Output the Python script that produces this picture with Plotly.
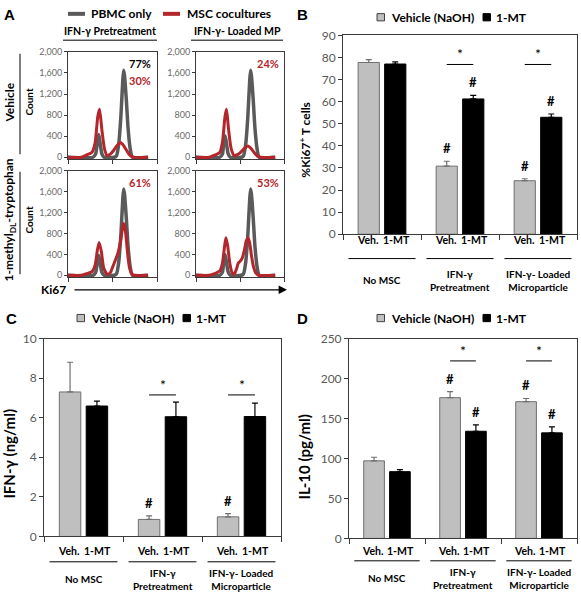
import plotly.graph_objects as go

W, H = 581, 600
FONT = "Lato, 'Open Sans', Arial, sans-serif"
LETTER_FONT = "'Liberation Sans', Arial, sans-serif"

# ---------------- data ----------------
groups = ["No MSC", "IFN-γ Pretreatment", "IFN-γ- Loaded Microparticle"]
group_labels = ["No MSC", "IFN-γ<br>Pretreatment", "IFN-γ- Loaded<br>Microparticle"]
series_names = ["Vehicle (NaOH)", "1-MT"]
bar_tick_labels = ["Veh.", "1-MT"]

# Panel B: %Ki67+ T cells
ki67_veh = [77.7, 30.8, 24.2]
ki67_veh_err = [1.3, 2.2, 0.9]
ki67_mt = [77.0, 61.2, 52.9]
ki67_mt_err = [1.0, 1.6, 1.5]
ki67_hash_veh = [False, True, True]
ki67_hash_mt = [False, True, True]

# Panel C: IFN-gamma (ng/ml)
ifng_veh = [7.30, 0.86, 0.99]
ifng_veh_err = [1.50, 0.18, 0.16]
ifng_mt = [6.59, 6.05, 6.06]
ifng_mt_err = [0.25, 0.74, 0.68]
ifng_hash_veh = [False, True, True]
ifng_hash_mt = [False, False, False]

# Panel D: IL-10 (pg/ml)
il10_veh = [97, 176, 171]
il10_veh_err = [4.5, 7.5, 4.0]
il10_mt = [83.5, 134, 132]
il10_mt_err = [2.5, 8.0, 7.5]
il10_hash_veh = [False, True, True]
il10_hash_mt = [False, True, True]

star_groups = [1, 2]

# Panel A: Ki67 histograms (x = Ki67 channel position in %, y = count)
hist_cols = ["IFN-γ Pretreatment", "IFN-γ- Loaded MP"]
hist_rows = ["Vehicle", "1-methyl<sub>DL</sub>-tryptophan"]
hist_yticks = [0, 400, 800, 1200, 1600, 2000]
hist_xticks = [0, 50, 100]

pbmc_x_tl = [0, 28, 31, 33, 34.5, 36, 38, 40.5, 52, 54.5, 57, 59.5, 61.5, 62.5, 63.5, 65.5, 67.5, 70, 72.5, 90]
pbmc_y_tl = [0, 0, 60, 280, 430, 280, 70, 0, 0, 30, 250, 800, 1450, 1650, 1550, 1100, 550, 150, 0, 0]
msc_x_tl = [0, 15, 21, 27, 30.5, 33.5, 35.5, 38, 41, 44, 47.5, 51, 55, 59, 62.5, 66, 70, 74, 90]
msc_y_tl = [0, 0, 45, 95, 280, 780, 910, 530, 160, 30, 60, 125, 220, 280, 220, 125, 30, 0, 0]

pbmc_x_tr = [0, 27, 30, 31.5, 33, 34.5, 36.5, 39, 51.5, 54, 56.5, 59, 61, 62, 63, 65, 67, 69.5, 72, 90]
pbmc_y_tr = [0, 0, 60, 280, 410, 280, 70, 0, 0, 30, 250, 800, 1450, 1650, 1550, 1100, 550, 150, 0, 0]
msc_x_tr = [0, 15, 21, 27, 30, 33, 34.7, 37, 40, 43.5, 47, 51, 55, 59, 62.5, 66, 70, 73, 90]
msc_y_tr = [0, 0, 40, 90, 280, 780, 910, 530, 160, 30, 50, 100, 170, 215, 170, 90, 20, 0, 0]

pbmc_x_bl = [0, 28, 31, 33, 34.5, 36, 38, 40.5, 52, 54.5, 57, 59.5, 61.5, 62.5, 63.5, 65.5, 67.5, 70, 72.5, 90]
pbmc_y_bl = [0, 0, 50, 250, 380, 250, 60, 0, 0, 30, 250, 800, 1450, 1650, 1550, 1100, 550, 150, 0, 0]
msc_x_bl = [0, 15, 21, 27, 30.5, 33, 35, 37.5, 40, 44, 47.5, 50, 53, 56, 59, 61.5, 62.5, 64.5, 66.5, 69, 72, 75, 90]
msc_y_bl = [0, 0, 30, 70, 200, 480, 630, 450, 150, 20, 50, 150, 280, 420, 650, 930, 990, 850, 500, 150, 20, 0, 0]

pbmc_x_br = [0, 27, 30, 31.5, 33, 34.5, 36.5, 39, 51.5, 54, 56.5, 59, 61, 62, 63, 65, 67, 69.5, 72, 90]
pbmc_y_br = [0, 0, 55, 270, 400, 270, 65, 0, 0, 30, 250, 800, 1450, 1650, 1550, 1100, 550, 150, 0, 0]
msc_x_br = [0, 15, 21, 27, 30, 32.5, 34, 36, 38.5, 41, 43.5, 46, 48, 50, 52.5, 55, 57, 59, 61, 63, 65.5, 68, 71, 90]
msc_y_br = [0, 0, 30, 80, 230, 560, 720, 560, 220, 50, 20, 120, 230, 265, 330, 480, 650, 720, 620, 380, 150, 40, 0, 0]

pbmc_pct = "77%"
msc_pct = ["30%", "24%", "61%", "53%"]
hist_names = ["PBMC only", "MSC cocultures"]

# ---------------- style ----------------
PBMC_COLOR = "#5a5a5a"
MSC_COLOR = "#B3262C"
GRAY_BAR = "#BFBFBF"
GRAY_EDGE = "#6f6f6f"
AXIS = "#3a3a3a"
TICK_TXT = "#595959"


def px_x(p):
    return p / W


def px_y(p):
    return 1 - p / H


fig = go.Figure()
shapes = []
annotations = []
axes = {}


def ann(text, x, y, size=11, color="black", xanchor="center", yanchor="middle",
        bold=True, textangle=0, family=FONT, xref="paper", yref="paper", **kw):
    if xref == "paper":
        x = px_x(x)
    if yref == "paper":
        y = px_y(y)
    annotations.append(dict(text=f"<b>{text}</b>" if bold else text, x=x, y=y,
                            xref=xref, yref=yref, xanchor=xanchor, yanchor=yanchor,
                            showarrow=False, textangle=textangle,
                            font=dict(family=family, size=size, color=color), **kw))


def line_px(x0, y0, x1, y1, color="black", width=1):
    shapes.append(dict(type="line", xref="paper", yref="paper",
                       x0=px_x(x0), x1=px_x(x1), y0=px_y(y0), y1=px_y(y1),
                       line=dict(color=color, width=width)))


def rect_px(x0, y0, x1, y1, fill, edge):
    shapes.append(dict(type="rect", xref="paper", yref="paper",
                       x0=px_x(x0), x1=px_x(x1), y0=px_y(y1), y1=px_y(y0),
                       fillcolor=fill, line=dict(color=edge, width=1)))


def axkey(a, prefix):
    return prefix + ("" if len(a) == 1 else a[1:])


# ---------------- panel A ----------------
hist_specs = [
    ("x", "y", (68, 157), (45, 155), pbmc_x_tl, pbmc_y_tl, msc_x_tl, msc_y_tl),
    ("x2", "y2", (196, 284), (45, 155), pbmc_x_tr, pbmc_y_tr, msc_x_tr, msc_y_tr),
    ("x3", "y3", (68, 157), (167, 276), pbmc_x_bl, pbmc_y_bl, msc_x_bl, msc_y_bl),
    ("x4", "y4", (196, 284), (167, 276), pbmc_x_br, pbmc_y_br, msc_x_br, msc_y_br),
]
for xa, ya, xd, yd, pxs, pys, mxs, mys in hist_specs:
    fig.add_trace(go.Scatter(x=pxs, y=pys, xaxis=xa, yaxis=ya, mode="lines",
                             name=hist_names[0], showlegend=False,
                             line=dict(color=PBMC_COLOR, width=3.5, shape="spline", smoothing=0.6)))
    fig.add_trace(go.Scatter(x=mxs, y=mys, xaxis=xa, yaxis=ya, mode="lines",
                             name=hist_names[1], showlegend=False,
                             line=dict(color=MSC_COLOR, width=3, shape="spline", smoothing=0.6)))
    axes[axkey(xa, "xaxis")] = dict(
        domain=[px_x(xd[0]), px_x(xd[1])], anchor=ya, range=[0, 100],
        showline=True, linecolor=AXIS, linewidth=1, mirror=True,
        ticks="outside", ticklen=4, tickcolor=AXIS, tickvals=hist_xticks,
        showticklabels=False, showgrid=False, zeroline=False)
    axes[axkey(ya, "yaxis")] = dict(
        domain=[px_y(yd[1]), px_y(yd[0])], anchor=xa, range=[-35, 2000],
        showline=True, linecolor=AXIS, linewidth=1, mirror=True,
        ticks="outside", ticklen=3, tickcolor=AXIS, tickvals=hist_yticks,
        tickformat=",", tickfont=dict(family=FONT, size=9, color="#6b6b6b"),
        showgrid=False, zeroline=False)

# panel A labels
ann("A", 2, 7, size=15, xanchor="left", family=LETTER_FONT)
line_px(68, 6, 85, 6, color=PBMC_COLOR, width=4)
ann(hist_names[0], 89, 6, size=12, xanchor="left")
line_px(163, 6, 180, 6, color=MSC_COLOR, width=4)
ann(hist_names[1], 185, 6, size=12, xanchor="left")
ann(hist_cols[0], 110, 24, size=10.5)
line_px(63, 33, 157, 33)
ann(hist_cols[1], 237, 24, size=10.5)
line_px(191, 33, 283, 33)
ann(hist_rows[0], 10, 97, size=12, textangle=-90)
line_px(20, 47, 20, 150)
ann(hist_rows[1], 10, 218, size=12, textangle=-90)
line_px(20, 168, 20, 273)
ann("Count", 29, 97, size=10, textangle=-90)
ann("Count", 29, 218, size=10, textangle=-90)
ann(pbmc_pct, 153, 57, size=11, xanchor="right")
ann(msc_pct[0], 153, 74, size=11, xanchor="right", color=MSC_COLOR)
ann(msc_pct[1], 281, 57, size=11, xanchor="right", color=MSC_COLOR)
ann(msc_pct[2], 153, 179, size=11, xanchor="right", color=MSC_COLOR)
ann(msc_pct[3], 281, 179, size=11, xanchor="right", color=MSC_COLOR)
ann("Ki67", 39, 289, size=12, xanchor="left")
annotations.append(dict(x=px_x(287), y=px_y(289), xref="paper", yref="paper",
                        ax=73 - 287, ay=0, text="", showarrow=True,
                        arrowhead=2, arrowsize=1.4, arrowwidth=1.2, arrowcolor="black"))

# ---------------- bar panels B, C, D ----------------
OFF = 0.17
bar_specs = [
    dict(letter="B", lx=295, ly=7, xa="x5", ya="y5", xd=(343, 577), yd=(28, 232),
         veh=ki67_veh, veh_err=ki67_veh_err, mt=ki67_mt, mt_err=ki67_mt_err,
         hv=ki67_hash_veh, hm=ki67_hash_mt, yrange=[0, 90], dtick=10, star_y=76.8,
         title="%Ki67<sup>+</sup> T cells", tx=305, ty=135, tsize=12,
         leg_x=377, leg_y=9.5, sub_y=238, line_y=257, grp_y=279),
    dict(letter="C", lx=4, ly=318, xa="x6", ya="y6", xd=(44, 281), yd=(339, 542),
         veh=ifng_veh, veh_err=ifng_veh_err, mt=ifng_mt, mt_err=ifng_mt_err,
         hv=ifng_hash_veh, hm=ifng_hash_mt, yrange=[0, 10], dtick=2, star_y=7.15,
         title="IFN-γ (ng/ml)", tx=9, ty=457, tsize=15,
         leg_x=77, leg_y=318, sub_y=557, line_y=568, grp_y=586),
    dict(letter="D", lx=295, ly=318, xa="x7", ya="y7", xd=(349, 577), yd=(339, 544),
         veh=il10_veh, veh_err=il10_veh_err, mt=il10_mt, mt_err=il10_mt_err,
         hv=il10_hash_veh, hm=il10_hash_mt, yrange=[0, 250], dtick=50, star_y=222,
         title="IL-10 (pg/ml)", tx=303, ty=460, tsize=15,
         leg_x=377, leg_y=318, sub_y=557, line_y=567, grp_y=585),
]

for s in bar_specs:
    xa, ya = s["xa"], s["ya"]
    fig.add_trace(go.Bar(
        x=groups, y=s["veh"], xaxis=xa, yaxis=ya, name=series_names[0], showlegend=False,
        marker=dict(color=GRAY_BAR, line=dict(color=GRAY_EDGE, width=1)),
        error_y=dict(type="data", array=s["veh_err"], arrayminus=[0, 0, 0], symmetric=False,
                     color=GRAY_EDGE, thickness=1.2, width=3)))
    fig.add_trace(go.Bar(
        x=groups, y=s["mt"], xaxis=xa, yaxis=ya, name=series_names[1], showlegend=False,
        marker=dict(color="black", line=dict(color="black", width=1)),
        error_y=dict(type="data", array=s["mt_err"], arrayminus=[0, 0, 0], symmetric=False,
                     color="black", thickness=1.2, width=3)))
    axes[axkey(xa, "xaxis")] = dict(
        domain=[px_x(s["xd"][0]), px_x(s["xd"][1])], anchor=ya, type="category",
        categoryorder="array", categoryarray=groups, range=[-0.5, 2.5],
        showline=True, linecolor=AXIS, linewidth=1, mirror=True,
        ticks="outside", tickson="boundaries", ticklen=5, tickcolor=AXIS,
        showticklabels=False, showgrid=False, zeroline=False)
    axes[axkey(ya, "yaxis")] = dict(
        domain=[px_y(s["yd"][1]), px_y(s["yd"][0])], anchor=xa, range=s["yrange"],
        tick0=0, dtick=s["dtick"], showline=True, linecolor=AXIS, linewidth=1, mirror=True,
        ticks="outside", ticklen=4, tickcolor=AXIS,
        tickfont=dict(family=FONT, size=12, color=TICK_TXT),
        showgrid=False, zeroline=False)

    # panel letter, axis title
    ann(s["letter"], s["lx"], s["ly"], size=15, xanchor="left", family=LETTER_FONT)
    ann(s["title"], s["tx"], s["ty"], size=s["tsize"], textangle=-90)

    # legend
    lx, ly = s["leg_x"], s["leg_y"]
    rect_px(lx, ly - 3.7, lx + 7.5, ly + 3.7, GRAY_BAR, "#404040")
    ann(series_names[0], lx + 12, ly, size=12, xanchor="left")
    rect_px(lx + 106, ly - 3.7, lx + 113.5, ly + 3.7, "black", "black")
    ann(series_names[1], lx + 117, ly, size=12, xanchor="left")

    for i in range(3):
        # sub labels under bars
        ann(bar_tick_labels[0], i - OFF, s["sub_y"], size=10.5, xref=xa, xshift=-1)
        ann(bar_tick_labels[1], i + OFF, s["sub_y"], size=10.5, xref=xa, xshift=1)
        shapes.append(dict(type="line", xref=xa, yref="paper", x0=i - 0.43, x1=i + 0.43,
                           y0=px_y(s["line_y"]), y1=px_y(s["line_y"]),
                           line=dict(color="black", width=1)))
        ann(group_labels[i], i, s["grp_y"], size=10, xref=xa)
        # significance marks
        if s["hv"][i]:
            ann("#", i - OFF, s["veh"][i] + s["veh_err"][i], size=13, xref=xa, yref=ya,
                yanchor="bottom", yshift=3)
        if s["hm"][i]:
            ann("#", i + OFF, s["mt"][i] + s["mt_err"][i], size=13, xref=xa, yref=ya,
                yanchor="bottom", yshift=3)
    for g in star_groups:
        shapes.append(dict(type="line", xref=xa, yref=ya, x0=g - OFF, x1=g + OFF,
                           y0=s["star_y"], y1=s["star_y"], line=dict(color="black", width=1)))
        ann("*", g, s["star_y"], size=14, bold=False, xref=xa, yref=ya, yanchor="bottom")

fig.update_layout(
    width=W, height=H, margin=dict(l=0, r=0, t=0, b=0),
    paper_bgcolor="white", plot_bgcolor="white",
    showlegend=False, barmode="group", bargap=0.32, bargroupgap=0.2,
    font=dict(family=FONT, size=11, color="black"),
    shapes=shapes, annotations=annotations, **axes)

fig.write_html("out.html", config={"displayModeBar": False, "staticPlot": True},
               post_script="document.body.style.margin='0';document.body.style.overflow='hidden';")
